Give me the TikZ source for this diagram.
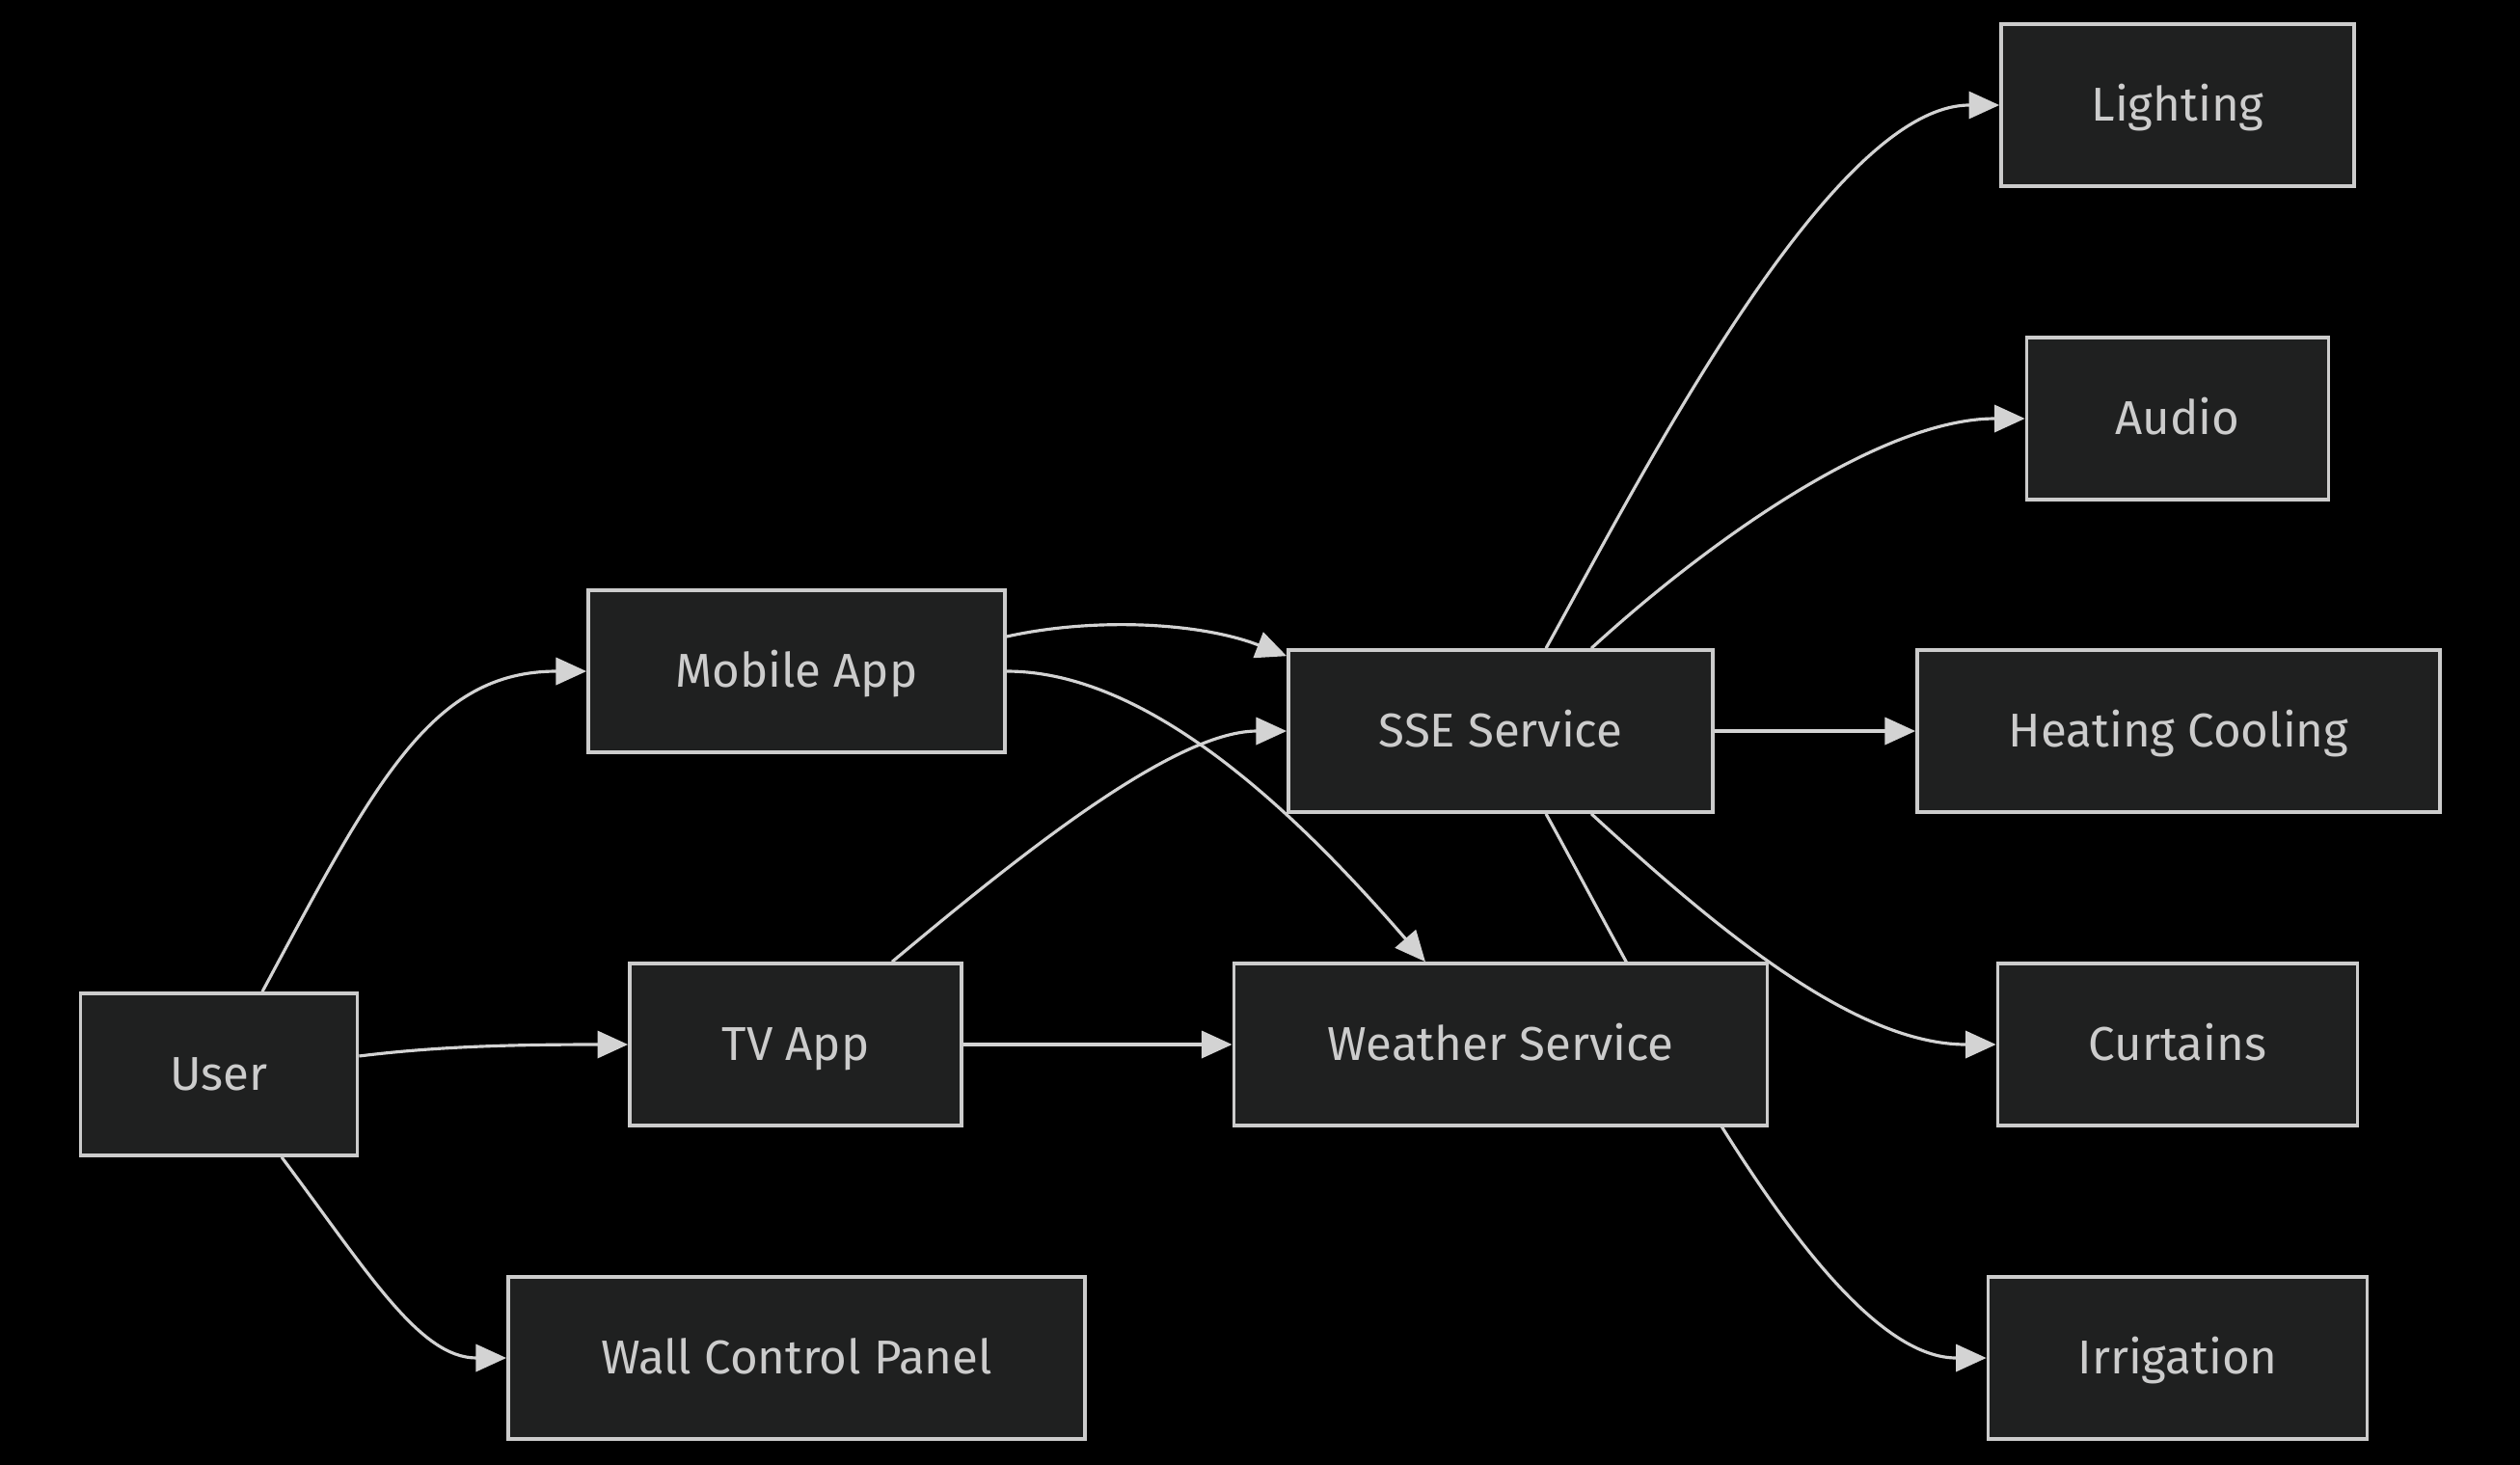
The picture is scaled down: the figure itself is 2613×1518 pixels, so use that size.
\documentclass[tikz,border=0pt]{standalone}
\usepackage{fontspec}
\setmainfont{Fira Sans}
\usetikzlibrary{arrows.meta,backgrounds}
\definecolor{boxfill}{HTML}{1F2020}
\definecolor{boxline}{HTML}{CCCCCC}
\definecolor{edgeline}{HTML}{D3D3D3}

\begin{document}
\begin{tikzpicture}[x=0.01cm,y=-0.01cm,
  block/.style={draw=boxline,fill=boxfill,line width=1pt,text=boxline,minimum height=1.68cm,inner sep=0pt,
    text height=1.14em,text depth=0.2em,font=\fontsize{14}{16}\selectfont},
  flow/.style={draw=edgeline,line width=0.9pt,-{Triangle[length=9pt,width=8pt]}}]
  \useasboundingbox (0,0) rectangle (2613,1518);
  % left column
  \node (user) [block, minimum width=2.87cm] at (227,1114) {User};
  % apps
  \node (mobile) [block, minimum width=4.32cm] at (826,696) {Mobile App};
  \node (tv) [block, minimum width=3.44cm] at (825,1083) {TV App};
  \node (wall) [block, minimum width=5.98cm] at (826,1408) {Wall Control Panel};
  % services
  \node (sse) [block, minimum width=4.40cm] at (1556,758) {SSE Service};
  \node (weather) [block, minimum width=5.53cm] at (1556,1083) {Weather Service};
  % devices
  \node (light) [block, minimum width=3.66cm] at (2258,109) {Lighting};
  \node (audio) [block, minimum width=3.13cm] at (2258,434) {Audio};
  \node (heat) [block, minimum width=5.42cm] at (2259,758) {Heating Cooling};
  \node (curtain) [block, minimum width=3.73cm] at (2258,1083) {Curtains};
  \node (irrig) [block, minimum width=3.93cm] at (2258,1408) {Irrigation};
  \begin{scope}[on background layer]
    \fill [black] (-10,-10) rectangle (2623,1528);
    \draw [flow] ([xshift=0.45cm]user.north) .. controls +(118,-220) and +(-160,0) .. (mobile.west);
    \draw [flow] ([yshift=0.19cm]user.east) .. controls +(80,-10) and +(-120,0) .. (tv.west);
    \draw [flow] ([xshift=0.65cm]user.south) .. controls +(90,120) and +(-90,0) .. (wall.west);
    \draw [flow] ([yshift=0.36cm]mobile.east) .. controls +(90,-20) and +(-90,-35) .. ([yshift=-0.08cm]sse.north west);
    \draw [flow] (mobile.east) .. controls +(150,0) and +(-130,-150) .. ([xshift=-0.78cm]weather.north);
    \draw [flow] ([xshift=1cm]tv.north) .. controls +(120,-100) and +(-120,0) .. (sse.west);
    \draw [flow] (tv.east) -- (weather.west);
    \draw [flow] ([xshift=0.47cm]sse.north) .. controls +(97,-175) and +(-175,0) .. (light.west);
    \draw [flow] ([xshift=0.94cm]sse.north) .. controls +(120,-110) and +(-150,0) .. (audio.west);
    \draw [flow] (sse.east) -- (heat.west);
    \draw [flow] ([xshift=0.94cm]sse.south) .. controls +(120,110) and +(-150,0) .. (curtain.west);
    \draw [flow] ([xshift=0.47cm]sse.south) .. controls +(97,175) and +(-170,0) .. (irrig.west);
  \end{scope}
\end{tikzpicture}
\end{document}
